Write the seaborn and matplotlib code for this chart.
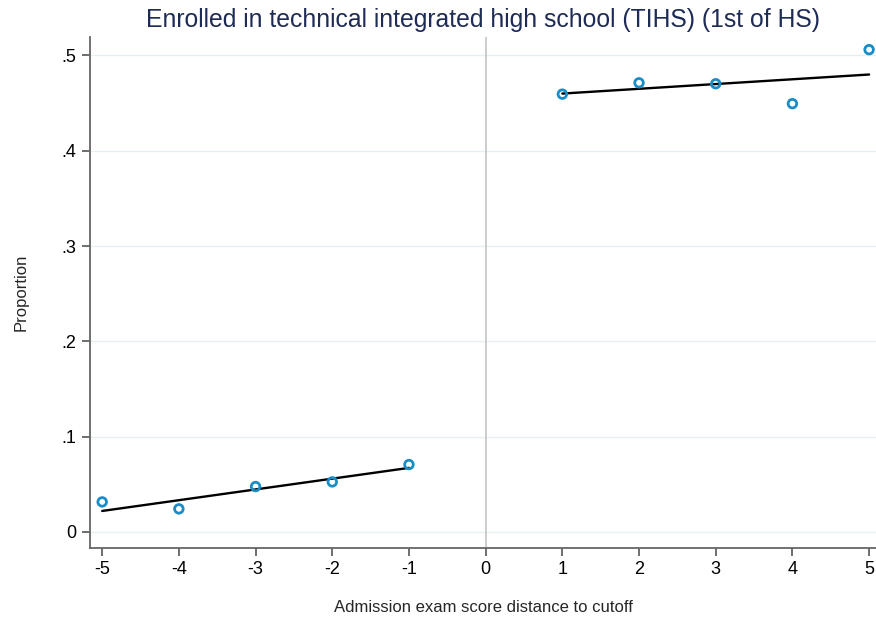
import numpy as np
import pandas as pd
import matplotlib
matplotlib.use('Agg')
import matplotlib.pyplot as plt
import seaborn as sns

# binned means by distance to cutoff
x_left = [-5, -4, -3, -2, -1]
y_left = [0.0315, 0.0242, 0.0476, 0.0525, 0.0707]
x_right = [1, 2, 3, 4, 5]
y_right = [0.4594, 0.4713, 0.4703, 0.4494, 0.5061]

# linear fit endpoints on each side
fit_left_x = [-5, -1]
fit_left_y = [0.0220, 0.0672]
fit_right_x = [1, 5]
fit_right_y = [0.4600, 0.4800]

x_ticks = [-5, -4, -3, -2, -1, 0, 1, 2, 3, 4, 5]
y_ticks = [0, 0.1, 0.2, 0.3, 0.4, 0.5]
y_tick_labels = ['0', '.1', '.2', '.3', '.4', '.5']

sns.set_style('white')
plt.rcParams['font.family'] = ['Liberation Sans', 'DejaVu Sans']

pts = pd.DataFrame({'x': x_left + x_right, 'y': y_left + y_right})

fig = plt.figure(figsize=(8.76, 6.25), dpi=100)
ax = fig.add_axes([0.103, 0.123, 0.897, 0.818])

for yt in y_ticks:
    ax.axhline(yt, color='#e6eff1', lw=1.0, zorder=0)
ax.axvline(0, color='#c8c8c8', lw=1.3, zorder=1)

sns.lineplot(x=fit_left_x, y=fit_left_y, color='black', lw=1.7, ax=ax, zorder=2)
sns.lineplot(x=fit_right_x, y=fit_right_y, color='black', lw=1.7, ax=ax, zorder=2)
sns.scatterplot(data=pts, x='x', y='y', s=38, facecolors='none',
                edgecolor='#1a8cc6', linewidth=2.0, ax=ax, zorder=3,
                clip_on=False)

ax.set_xlim(-5.156, 5.09)
ax.set_ylim(-0.017, 0.5195)
ax.set_xticks(x_ticks)
ax.set_xticklabels([str(t) for t in x_ticks])
ax.set_yticks(y_ticks)
ax.set_yticklabels(y_tick_labels)
ax.tick_params(axis='both', direction='out', length=6, width=1.2, color='#555555',
               labelsize=13, labelcolor='black', bottom=True, left=True)
ax.tick_params(axis='x', pad=3)
ax.tick_params(axis='y', pad=4)

for side in ['top', 'right']:
    ax.spines[side].set_visible(False)
for side in ['left', 'bottom']:
    ax.spines[side].set_color('#666666')
    ax.spines[side].set_linewidth(1.3)

ax.set_xlabel('Admission exam score distance to cutoff', fontsize=12, labelpad=16)
ax.set_ylabel('Proportion', fontsize=12, labelpad=24)
ax.set_title('Enrolled in technical integrated high school (TIHS) (1st of HS)',
             fontsize=17.8, color='#1e2b55', pad=7)

fig.savefig('out.png', dpi=100)
